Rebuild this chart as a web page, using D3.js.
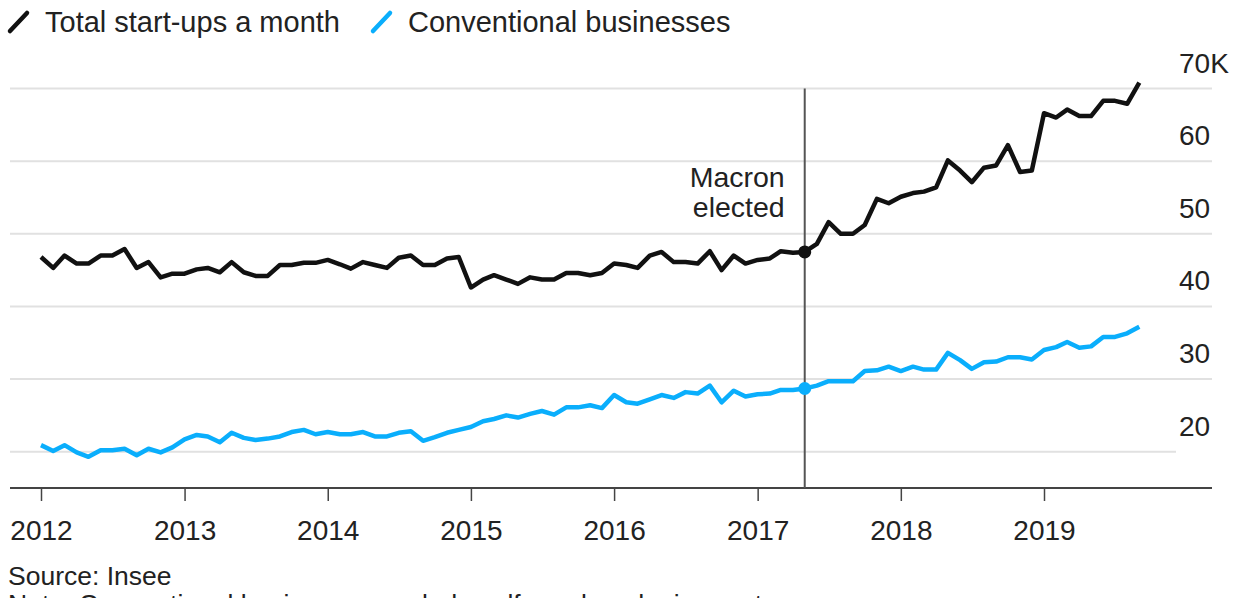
<!DOCTYPE html>
<html>
<head>
<meta charset="utf-8">
<script src="https://cdn.jsdelivr.net/npm/d3@7"></script>
<style>
  body { margin: 0; background: #fff; }
  svg { display: block; font-family: "Liberation Sans", Arial, sans-serif; }
  .label { fill: #222; }
</style>
</head>
<body>
<svg id="chart" width="1241" height="598"></svg>
<script>
// Monthly values, Jan 2012 - Sep 2019 (thousands)
const totalStartups = [
    46.8, 45.3, 47.0, 45.9, 45.9, 47.0, 47.0, 47.9, 45.3, 46.1, 44.0, 44.5,
    44.5, 45.1, 45.3, 44.7, 46.1, 44.7, 44.2, 44.2, 45.7, 45.7, 46.0, 46.0,
    46.4, 45.8, 45.2, 46.1, 45.7, 45.3, 46.7, 47.0, 45.7, 45.7, 46.6, 46.8,
    42.6, 43.7, 44.3, 43.7, 43.1, 44.0, 43.7, 43.7, 44.6, 44.6, 44.3, 44.6,
    45.9, 45.7, 45.3, 47.0, 47.5, 46.1, 46.1, 45.9, 47.6, 45.0, 47.0, 45.9,
    46.4, 46.6, 47.6, 47.4, 47.5, 48.6, 51.6, 50.0, 50.0, 51.2, 54.8, 54.2,
    55.1, 55.6, 55.8, 56.4, 60.1, 58.7, 57.1, 59.1, 59.4, 62.2, 58.5, 58.7,
    66.6, 66.0, 67.1, 66.2, 66.2, 68.3, 68.3, 67.9, 70.8
];
const conventional = [
    20.9, 20.1, 20.9, 19.9, 19.3, 20.2, 20.2, 20.4, 19.5, 20.4, 19.9, 20.6,
    21.7, 22.3, 22.1, 21.3, 22.6, 21.9, 21.6, 21.8, 22.1, 22.7, 23.0, 22.4,
    22.7, 22.4, 22.4, 22.7, 22.1, 22.1, 22.6, 22.8, 21.5, 22.0, 22.6, 23.0,
    23.4, 24.2, 24.5, 25.0, 24.7, 25.2, 25.6, 25.1, 26.1, 26.1, 26.4, 26.0,
    27.8, 26.8, 26.6, 27.2, 27.8, 27.4, 28.2, 28.0, 29.1, 26.8, 28.4, 27.6,
    27.9, 28.0, 28.5, 28.5, 28.7, 29.1, 29.7, 29.7, 29.7, 31.1, 31.2, 31.7,
    31.1, 31.7, 31.3, 31.3, 33.6, 32.6, 31.4, 32.3, 32.4, 33.0, 33.0, 32.7,
    34.0, 34.4, 35.1, 34.3, 34.5, 35.8, 35.8, 36.3, 37.2
];
const yearTicks = [2012, 2013, 2014, 2015, 2016, 2017, 2018, 2019];
const yTicks = [20, 30, 40, 50, 60, 70];
const seriesNames = ["Total start-ups a month", "Conventional businesses"];
const seriesColors = ["#111111", "#0aaefc"];
const eventDate = new Date(2017, 4, 1);
const eventLabel = ["Macron", "elected"];

const months = d3.timeMonth.range(new Date(2012, 0, 1), new Date(2019, 9, 1));

const svg = d3.select("#chart");

const x = d3.scaleTime()
    .domain([new Date(2012, 0, 1), new Date(2019, 0, 1)])
    .range([41, 1044]);
const y = d3.scaleLinear().domain([15, 70]).range([488, 88.5]);

// Gridlines
svg.append("g").selectAll("line")
    .data(yTicks)
    .join("line")
    .attr("x1", 10)
    .attr("x2", d => d === 20 ? 1176 : 1212)
    .attr("y1", d => y(d)).attr("y2", d => y(d))
    .attr("stroke", "#e1e1e1")
    .attr("stroke-width", 2);

// Right labels, sitting above their gridline
svg.append("g").selectAll("text")
    .data(yTicks)
    .join("text")
    .attr("class", "label")
    .attr("x", 1179)
    .attr("y", d => y(d) - 16)
    .attr("font-size", 28)
    .text(d => d === 70 ? "70K" : d);

// Bottom axis
const xAxis = svg.append("g")
    .attr("transform", "translate(0,488)")
    .call(d3.axisBottom(x)
        .tickValues(yearTicks.map(yr => new Date(yr, 0, 1)))
        .tickFormat(d3.timeFormat("%Y"))
        .tickSize(13)
        .tickSizeOuter(0));
xAxis.select(".domain").remove();
xAxis.selectAll(".tick line").attr("stroke", "#444").attr("stroke-width", 1.5);
xAxis.selectAll(".tick text")
    .attr("class", "label")
    .attr("font-size", 28)
    .attr("font-family", "Liberation Sans, Arial, sans-serif")
    .attr("dy", 0)
    .attr("y", 52);
svg.append("line")
    .attr("x1", 10).attr("x2", 1212)
    .attr("y1", 488).attr("y2", 488)
    .attr("stroke", "#444").attr("stroke-width", 2);

// Event marker
svg.append("line")
    .attr("x1", x(eventDate)).attr("x2", x(eventDate))
    .attr("y1", y(70)).attr("y2", 488)
    .attr("stroke", "#555").attr("stroke-width", 2);
svg.append("text")
    .attr("class", "label")
    .attr("text-anchor", "end")
    .attr("font-size", 28.5)
    .selectAll("tspan")
    .data(eventLabel)
    .join("tspan")
    .attr("x", x(eventDate) - 20)
    .attr("y", (d, i) => 187 + i * 30)
    .text(d => d);

// Lines
const line = d3.line()
    .x((d, i) => x(months[i]))
    .y(d => y(d));

[totalStartups, conventional].forEach((series, k) => {
    svg.append("path")
        .datum(series)
        .attr("d", line)
        .attr("fill", "none")
        .attr("stroke", seriesColors[k])
        .attr("stroke-width", 4.5)
        .attr("stroke-linejoin", "round");
    const idx = months.findIndex(m => +m === +eventDate);
    svg.append("circle")
        .attr("cx", x(months[idx]))
        .attr("cy", y(series[idx]))
        .attr("r", 6.5)
        .attr("fill", seriesColors[k]);
});

// Legend
const legendX = [45, 408];
seriesNames.forEach((name, k) => {
    svg.append("line")
        .attr("x1", legendX[k] - 35).attr("y1", 31)
        .attr("x2", legendX[k] - 18).attr("y2", 13)
        .attr("stroke", seriesColors[k])
        .attr("stroke-width", 4.5)
        .attr("stroke-linecap", "round");
    svg.append("text")
        .attr("class", "label")
        .attr("x", legendX[k])
        .attr("y", 32)
        .attr("font-size", 29)
        .text(name);
});

// Footer
svg.append("text")
    .attr("class", "label")
    .attr("x", 8).attr("y", 585)
    .attr("font-size", 26.5)
    .text("Source: Insee");
svg.append("text")
    .attr("class", "label")
    .attr("x", 8).attr("y", 613)
    .attr("font-size", 26.5)
    .text("Note: Conventional businesses exclude self-employed micro-entrepreneurs");
</script>
</body>
</html>
